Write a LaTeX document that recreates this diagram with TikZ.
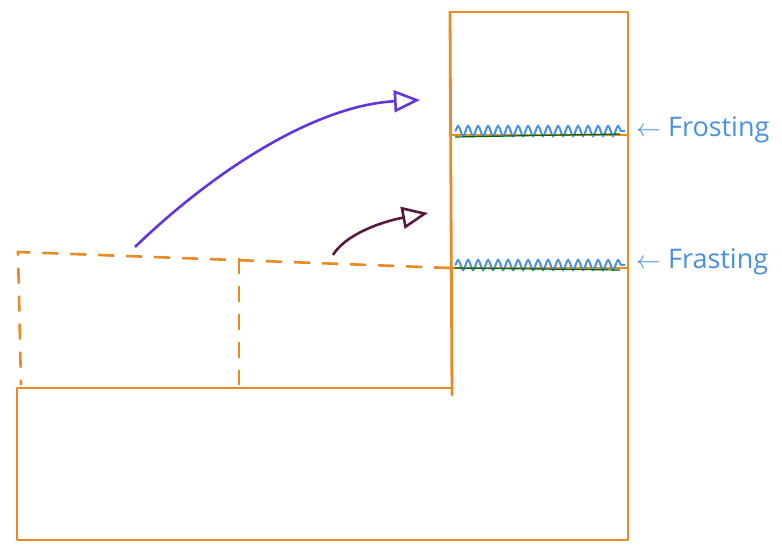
\documentclass[tikz,border=0pt]{standalone}
\usepackage{fontspec}
\setmainfont{Open Sans}
\usetikzlibrary{arrows.meta,decorations.pathmorphing}
\definecolor{cake}{HTML}{EA8A22}
\definecolor{icing}{HTML}{4A90E2}
\definecolor{violetpen}{HTML}{6236D8}
\definecolor{plumpen}{HTML}{5A1840}
\tikzset{
  edge/.style={draw=cake, line width=2.8pt, line cap=round, line join=round},
  dashedge/.style={draw=cake, line width=2.6pt, dash pattern=on 16pt off 12pt},
  frost/.style={draw=icing, line width=2pt, decorate,
     decoration={snake, segment length=10pt, amplitude=5pt}},
  label/.style={text=icing, font=\fontsize{27}{30}\selectfont, anchor=west, inner sep=0pt},
  movearrow/.style={line width=2.6pt, -{Triangle[open, length=26pt, width=22pt, line width=2.6pt]}}
}
\begin{document}
\begin{tikzpicture}[x=1pt,y=-1pt]
\useasboundingbox (0,0) rectangle (782,545);
% coordinates
\coordinate (tl) at (450,12);
\coordinate (tr) at (628,12);
\coordinate (br) at (628,540);
\coordinate (bl) at (17,540);
\coordinate (ml) at (17,388);
\coordinate (mr) at (452,388);
\coordinate (mrb) at (452,395);
\coordinate (f1l) at (450,135);
\coordinate (f1r) at (628,135);
\coordinate (f2l) at (450,268);
\coordinate (f2r) at (628,268);
\coordinate (dl) at (18,252);
\coordinate (dr) at (450,268);
\coordinate (dlb) at (21,385);
\coordinate (dmt) at (239,258);
\coordinate (dmb) at (239,385);
% solid outline
\draw[edge] (tl) -- (tr) -- (br) -- (bl) -- (ml) -- (mr);
\draw[edge] (tl) -- (mrb);
% layer lines
\draw[edge] (f1l) -- (f1r);
\draw[edge] (f2l) -- (f2r);
% dashed removed piece
\draw[dashedge] (dr) -- (dl) -- (dlb);
\draw[dashedge] (dmt) -- (dmb);
% frosting
\draw[frost] (455,131) -- (625,131);
\draw[frost] (455,265) -- (625,265);
\draw[line width=1.2pt, draw=black!60!green] (455,137) -- (620,134);
\draw[line width=1.2pt, draw=black!60!green] (455,268) -- (620,270);
% labels
\node[label] (lab1) at (636,130) {$\leftarrow$ Frosting};
\node[label] (lab2) at (636,262) {$\leftarrow$ Frasting};
% arrows
\coordinate (a1s) at (135,247);
\coordinate (a1e) at (420,100);
\coordinate (a2s) at (333,255);
\coordinate (a2e) at (428,213);
\draw[movearrow, violetpen] (a1s) .. controls (220,165) and (320,105) .. (a1e);
\draw[movearrow, plumpen] (a2s) .. controls (345,235) and (380,222) .. (a2e);
\end{tikzpicture}
\end{document}
